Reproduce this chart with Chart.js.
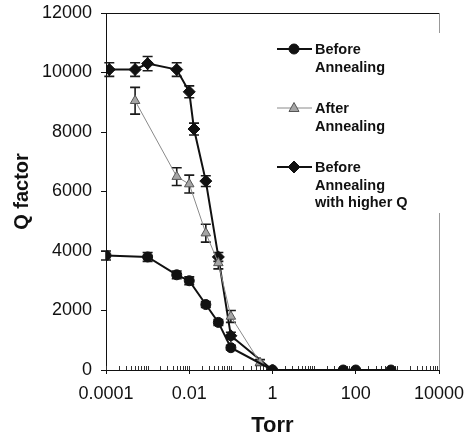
<!DOCTYPE html>
<html>
<head>
<meta charset="utf-8">
<script src="https://cdn.jsdelivr.net/npm/chart.js@4.4.0/dist/chart.umd.min.js"></script>
<style>
html, body { margin: 0; padding: 0; background: #fff; }
#wrap { width: 468px; height: 434px; }
</style>
</head>
<body>
<div id="wrap"><canvas id="grafica"></canvas></div>
<script>
// datos
var torrAntes = [0.0001, 0.001, 0.005, 0.01, 0.025, 0.05, 0.1, 1, 50, 100, 700];
var qAntes = [3850, 3800, 3200, 3000, 2200, 1600, 750, 0, 0, 0, 0];
var errAntes = [150, 150, 130, 130, 100, 100, 80, 0, 0, 0, 0];

var torrDespues = [0.0005, 0.005, 0.01, 0.025, 0.05, 0.1, 0.5, 1];
var qDespues = [9050, 6500, 6250, 4600, 3600, 1800, 250, 0];
var errDespues = [450, 300, 300, 300, 200, 200, 100, 0];

var torrAltoQ = [0.00012, 0.0005, 0.001, 0.005, 0.01, 0.013, 0.025, 0.05, 0.1, 1];
var qAltoQ = [10100, 10100, 10300, 10100, 9350, 8100, 6350, 3800, 1150, 0];
var errAltoQ = [230, 230, 240, 230, 200, 200, 180, 150, 120, 0];

var ticksX = [0.0001, 0.01, 1, 100, 10000];
var ticksY = [0, 2000, 4000, 6000, 8000, 10000, 12000];

var etiquetas = [["Before", "Annealing"], ["After", "Annealing"], ["Before", "Annealing", "with higher Q"]];

var fuente = "'Liberation Sans', Arial, sans-serif";

function puntos(xs, ys) { //arma los pares x,y
    return xs.map(function (t, i) { return { x: t, y: ys[i] }; });
}

var errores = [errAntes, errDespues, errAltoQ];

var barrasError = { //barras de error
    id: 'barrasError',
    beforeDatasetsDraw: function (chart) {
        var c = chart.ctx, sx = chart.scales.x, sy = chart.scales.y;
        chart.data.datasets.forEach(function (ds, k) {
            var errs = errores[k];
            c.save();
            c.strokeStyle = '#1a1a1a';
            c.lineWidth = 1.6;
            ds.data.forEach(function (p, i) {
                if (!errs[i]) return;
                var px = sx.getPixelForValue(p.x);
                var y1 = sy.getPixelForValue(p.y + errs[i]);
                var y2 = sy.getPixelForValue(p.y - errs[i]);
                c.beginPath();
                c.moveTo(px, y1); c.lineTo(px, y2);
                c.moveTo(px - 5, y1); c.lineTo(px + 5, y1);
                c.moveTo(px - 5, y2); c.lineTo(px + 5, y2);
                c.stroke();
            });
            c.restore();
        });
    }
};

var marco = { //borde superior, derecho y ticks menores
    id: 'marco',
    beforeDatasetsDraw: function (chart) {
        var c = chart.ctx, a = chart.chartArea, sx = chart.scales.x;
        c.save();
        c.lineWidth = 1;
        c.strokeStyle = '#111';
        c.beginPath();
        c.moveTo(a.left, a.top + 0.5); c.lineTo(a.right, a.top + 0.5);
        c.stroke();
        c.strokeStyle = '#999';
        c.beginPath();
        c.moveTo(a.right + 0.5, a.top); c.lineTo(a.right + 0.5, a.bottom);
        c.stroke();
        c.strokeStyle = '#333';
        c.beginPath();
        for (var e = -4; e < 4; e++) {
            for (var m = 1; m < 10; m++) {
                var px = Math.round(sx.getPixelForValue(m * Math.pow(10, e))) + 0.5;
                c.moveTo(px, a.bottom);
                c.lineTo(px, a.bottom - 4);
            }
        }
        c.stroke();
        c.restore();
    }
};

function marcador(c, tipo, x, y) { //dibuja el simbolo de la leyenda
    c.beginPath();
    if (tipo == 'circle') {
        c.arc(x, y, 5, 0, Math.PI * 2);
    } else if (tipo == 'triangle') {
        c.moveTo(x, y - 5.5); c.lineTo(x + 5, y + 3.5); c.lineTo(x - 5, y + 3.5); c.closePath();
    } else {
        c.moveTo(x, y - 6); c.lineTo(x + 6, y); c.lineTo(x, y + 6); c.lineTo(x - 6, y); c.closePath();
    }
    c.fill();
    c.stroke();
}

var leyenda = { //leyenda a mano
    id: 'leyenda',
    afterDraw: function (chart) {
        var c = chart.ctx;
        var filas = [49, 108, 167];
        c.save();
        c.fillStyle = '#fff';
        c.fillRect(268, 33, 180, 180);
        chart.data.datasets.forEach(function (ds, k) {
            var y = filas[k];
            c.strokeStyle = ds.borderColor;
            c.lineWidth = ds.borderWidth;
            c.beginPath();
            c.moveTo(277, y); c.lineTo(312, y);
            c.stroke();
            c.fillStyle = ds.pointBackgroundColor;
            c.strokeStyle = ds.pointBorderColor;
            c.lineWidth = 1;
            marcador(c, ds.pointStyle, 294, y);
            c.fillStyle = '#111';
            c.font = "bold 14.5px " + fuente;
            c.textBaseline = 'middle';
            c.textAlign = 'left';
            etiquetas[k].forEach(function (t, j) {
                c.fillText(t, 315, y + 1 + j * 17.5);
            });
        });
        c.restore();
    }
};

var grafica = new Chart(document.getElementById("grafica"), {
    type: 'scatter',
    data: {
        datasets: [{
            label: 'Before Annealing',
            data: puntos(torrAntes, qAntes),
            showLine: true,
            borderColor: '#111',
            borderWidth: 2,
            pointStyle: 'circle',
            pointRadius: 5,
            pointBackgroundColor: '#111',
            pointBorderColor: '#111',
            pointBorderWidth: 1
        }, {
            label: 'After Annealing',
            data: puntos(torrDespues, qDespues),
            showLine: true,
            borderColor: '#8a8a8a',
            borderWidth: 1,
            pointStyle: 'triangle',
            pointRadius: 5.5,
            pointBackgroundColor: '#a5a5a5',
            pointBorderColor: '#555',
            pointBorderWidth: 1
        }, {
            label: 'Before Annealing with higher Q',
            data: puntos(torrAltoQ, qAltoQ),
            showLine: true,
            borderColor: '#111',
            borderWidth: 2,
            pointStyle: 'rectRot',
            pointRadius: 6,
            pointBackgroundColor: '#111',
            pointBorderColor: '#111',
            pointBorderWidth: 1
        }]
    },
    options: {
        responsive: true,
        maintainAspectRatio: false,
        animation: false,
        layout: { padding: { top: 13, right: 29, left: 0, bottom: 0 } },
        plugins: {
            legend: { display: false },
            tooltip: { enabled: false }
        },
        scales: {
            x: {
                type: 'logarithmic',
                min: 0.0001,
                max: 10000,
                afterBuildTicks: function (s) { s.ticks = ticksX.map(function (v) { return { value: v }; }); },
                afterFit: function (s) { s.height = 64; s.paddingLeft = 0; s.paddingRight = 0; },
                ticks: {
                    autoSkip: false,
                    maxRotation: 0,
                    color: '#111',
                    padding: 9,
                    font: { size: 18, family: fuente },
                    callback: function (v) { return String(v); }
                },
                grid: { display: true, drawOnChartArea: false, tickLength: 4, color: '#111' },
                border: { display: true, color: '#111', width: 1 },
                title: {
                    display: true,
                    text: 'Torr',
                    color: '#111',
                    padding: 0,
                    font: { size: 22, weight: 'bold', family: fuente, lineHeight: 0.75 }
                }
            },
            y: {
                min: 0,
                max: 12000,
                afterBuildTicks: function (s) { s.ticks = ticksY.map(function (v) { return { value: v }; }); },
                afterFit: function (s) { s.width = 106; s.paddingTop = 0; s.paddingBottom = 0; },
                ticks: {
                    color: '#111',
                    padding: 9,
                    font: { size: 18, family: fuente },
                    callback: function (v) { return String(v); }
                },
                grid: { display: true, drawOnChartArea: false, tickLength: 5, color: '#111' },
                border: { display: true, color: '#111', width: 1 },
                title: {
                    display: true,
                    text: 'Q factor',
                    color: '#111',
                    padding: { top: 10, bottom: 0 },
                    font: { size: 20, weight: 'bold', family: fuente, lineHeight: 1.2 }
                }
            }
        }
    },
    plugins: [marco, barrasError, leyenda]
});
</script>
</body>
</html>
